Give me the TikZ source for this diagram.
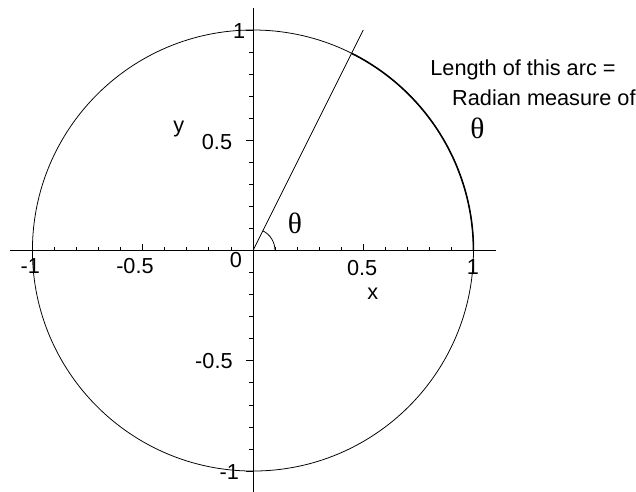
\documentclass[tikz,border=0pt]{standalone}
\usepackage{fontspec}
\setmainfont{Liberation Sans}
\newfontfamily\greekserif{Liberation Serif}
\begin{document}
\begin{tikzpicture}[x=5cm,y=5cm,line width=0.5pt,
		lbl/.style={font=\fontsize{14}{16}\selectfont},
		greek/.style={font=\greekserif\fontsize{19}{22}\selectfont}]
		\useasboundingbox (-1.147,-1.091) rectangle (1.737,1.136);
		
		% Axes
		\coordinate (O) at (0,0);
		\coordinate (xmin) at (-1.1,0);
		\coordinate (xmax) at (1.1,0);
		\coordinate (ymin) at (0,-1.1);
		\coordinate (ymax) at (0,1.1);
		\draw (xmin) -- (xmax);
		\draw (ymin) -- (ymax);
		\foreach \i in {-10,...,10} {
			\draw (\i/10,0) -- (\i/10,0.014);
			\draw (0,\i/10) -- (-0.017,\i/10);
		}
		\foreach \i in {-1,-0.5,0.5,1} {
			\draw (\i,0) -- (\i,0.028);
			\draw (0,\i) -- (-0.032,\i);
		}
		\node[lbl] (xm1) at (-1.01,-0.072) {-1};
		\node[lbl] (xm05) at (-0.535,-0.072) {-0.5};
		\node[lbl] (x05) at (0.495,-0.078) {0.5};
		\node[lbl] (x1) at (0.998,-0.075) {1};
		\node[lbl] (zero) at (-0.077,-0.043) {0};
		\node[lbl] (y1) at (-0.063,0.995) {1};
		\node[lbl] (y05) at (-0.163,0.49) {0.5};
		\node[lbl] (ym05) at (-0.177,-0.5) {-0.5};
		\node[lbl] (ym1) at (-0.107,-1.006) {-1};
		\node[lbl] (xlab) at (0.544,-0.198) {x};
		\node[lbl] (ylab) at (-0.336,0.552) {y};
		
		% Unit circle
		\draw (O) circle (1);
		\draw[line width=1pt] (1,0) arc (0:63.43:1);
		
		% Angle
		\coordinate (P) at (0.5,1);
		\draw (O) -- (P);
		\draw (0.1,0) arc (0:63.43:0.1);
		\node[greek] (th) at (0.19,0.125) {θ};
		
		% Arc note
		\node[lbl, anchor=west, inner sep=0] (note1) at (0.803,0.819) {Length of this arc =};
		\node[lbl, anchor=west, inner sep=0] (note2) at (0.902,0.692) {Radian measure of};
		\node[greek] (th2) at (1.018,0.556) {θ};
	\end{tikzpicture}
\end{document}
